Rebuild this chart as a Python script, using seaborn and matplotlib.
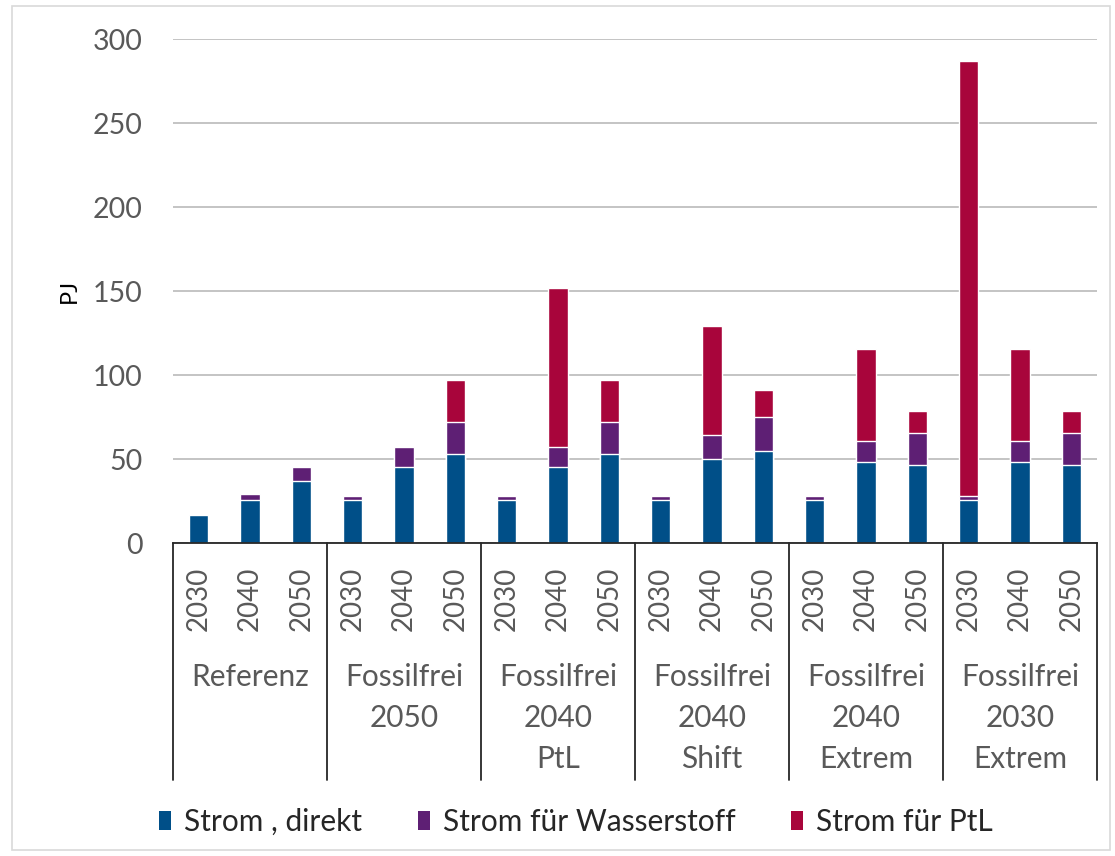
import matplotlib
matplotlib.use("Agg")
import matplotlib.pyplot as plt
import matplotlib.transforms as mtransforms
from matplotlib.patches import Rectangle, Patch
import numpy as np
import pandas as pd
import seaborn as sns

# Scenario groups and the years shown within each group
groups = ["Referenz", "Fossilfrei\n2050", "Fossilfrei\n2040\nPtL",
          "Fossilfrei\n2040\nShift", "Fossilfrei\n2040\nExtrem",
          "Fossilfrei\n2030\nExtrem"]
years = ["2030", "2040", "2050"]

# Electricity demand per use (PJ), one value per group/year bar
strom_direkt = [16.5, 25.5, 37.0, 25.5, 45.0, 53.0, 25.5, 45.0, 53.0,
                25.5, 50.0, 55.0, 25.5, 48.0, 46.5, 25.5, 48.0, 46.5]
strom_wasserstoff = [0.0, 3.5, 8.5, 2.5, 12.0, 19.0, 2.5, 12.0, 19.0,
                     2.5, 14.0, 20.0, 2.5, 13.0, 19.0, 2.5, 13.0, 19.0]
strom_ptl = [0.0, 0.0, 0.0, 0.0, 0.0, 25.0, 0.0, 95.0, 25.0,
             0.0, 65.0, 16.0, 0.0, 54.5, 13.0, 259.0, 54.5, 13.0]

series_names = ["Strom , direkt", "Strom für Wasserstoff", "Strom für PtL"]
colors = ["#004F88", "#5E1F74", "#A8053B"]

sns.set_theme(style="white")
plt.rcParams["font.family"] = ["Lato", "DejaVu Sans"]

slots = [f"{g.replace(chr(10), ' ')} {y}" for g in groups for y in years]
df = pd.DataFrame({
    "slot": slots,
    "direkt": strom_direkt,
    "wasserstoff": strom_wasserstoff,
    "ptl": strom_ptl,
})
df["cum1"] = df["direkt"]
df["cum2"] = df["cum1"] + df["wasserstoff"]
df["cum3"] = df["cum2"] + df["ptl"]

fig = plt.figure(figsize=(11.15, 8.56), dpi=100)
ax = fig.add_axes([173 / 1115, 1 - 543 / 856, 924 / 1115, 504 / 856])

# Stacked bars: draw cumulative totals from the top layer down
for col, color in zip(["cum3", "cum2", "cum1"], colors[::-1]):
    sns.barplot(data=df, x="slot", y=col, order=slots, color=color,
                width=0.38, edgecolor="white", linewidth=1.0,
                saturation=1, ax=ax)

ax.set_xlim(-0.5, len(slots) - 0.5)
ax.set_ylim(0, 300)
ax.set_yticks(np.arange(0, 301, 50))
ax.yaxis.grid(True, color="#BFBFBF", linewidth=1.3)
ax.set_axisbelow(True)
for s in ["top", "right", "left"]:
    ax.spines[s].set_visible(False)
ax.spines["bottom"].set_color("#262626")
ax.spines["bottom"].set_linewidth(1.3)

ax.tick_params(axis="y", length=0, pad=22, labelsize=20.5, labelcolor="#595959")
ax.set_ylabel("PJ", fontsize=17, color="black", labelpad=9)

ax.set_xticks(range(len(slots)))
ax.set_xticklabels(years * len(groups), rotation=90, fontsize=20,
                   color="#595959")
ax.tick_params(axis="x", length=0, pad=17)
ax.set_xlabel("")

# Group separators and group labels below the year labels
trans = mtransforms.blended_transform_factory(ax.transData, ax.transAxes)
for b in np.arange(-0.5, len(slots), 3):
    ax.plot([b, b], [0, -0.47], transform=trans, color="#262626",
            linewidth=1.3, clip_on=False)
for i, g in enumerate(groups):
    ax.text(3 * i + 1, -0.238, g, transform=trans, ha="center", va="top",
            fontsize=21.5, color="#595959", linespacing=1.56)

handles = [Patch(facecolor=c, edgecolor="none") for c in colors]
fig.legend(handles, series_names, loc="center",
           bbox_to_anchor=(576 / 1115, 1 - 822 / 856), ncol=3,
           frameon=False, fontsize=21.5, handlelength=0.4, handleheight=0.6,
           handletextpad=0.45, columnspacing=1.85)

fig.patches.append(Rectangle((12 / 1115, 6 / 856), 1098 / 1115, 844 / 856,
                             transform=fig.transFigure, fill=False,
                             edgecolor="#D9D9D9", linewidth=1.2))

fig.savefig("out.png", dpi=100, facecolor="white")
